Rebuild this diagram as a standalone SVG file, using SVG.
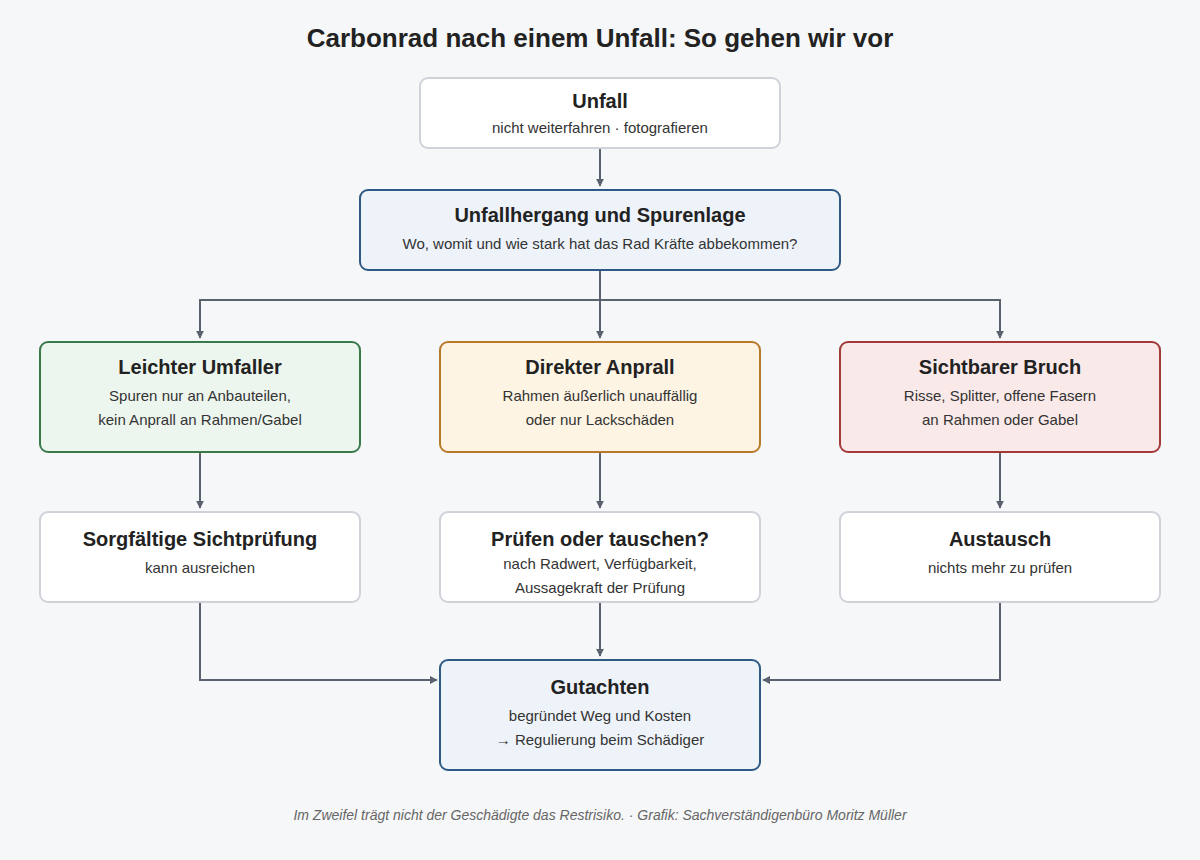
<svg xmlns="http://www.w3.org/2000/svg" width="1200" height="860" viewBox="0 0 1200 860">
<defs>
<marker id="ah" viewBox="0 0 10 10" refX="9" refY="5" markerWidth="8" markerHeight="8" markerUnits="userSpaceOnUse" orient="auto"><path d="M0,0 L10,5 L0,10 z" fill="#5a6270"/></marker>
<style>
text{font-family:"Liberation Sans",Arial,sans-serif;fill:#222;text-anchor:middle}
.t{font-size:20px;font-weight:bold}
.s{font-size:15px;fill:#333}
.c{fill:none;stroke:#5a6270;stroke-width:2;marker-end:url(#ah)}
.w{fill:#fff;stroke:#cfd3d9;stroke-width:2}
.b{fill:#eef3fa;stroke:#2f5a85;stroke-width:2}
</style>
</defs>
<rect width="1200" height="860" fill="#f6f7f9"/>
<text x="600" y="47" style="font-size:26px;font-weight:bold">Carbonrad nach einem Unfall: So gehen wir vor</text>
<g id="connectors">
<path class="c" d="M600,149 V186"/>
<path class="c" d="M600,271 V300 H200 V338"/>
<path class="c" d="M600,300 V338"/>
<path class="c" d="M600,300 H1000 V338"/>
<path class="c" d="M200,453 V508"/>
<path class="c" d="M600,453 V508"/>
<path class="c" d="M1000,453 V508"/>
<path class="c" d="M200,603 V680 H437"/>
<path class="c" d="M600,603 V656"/>
<path class="c" d="M1000,603 V680 H763"/>
</g>
<g id="n-unfall"><rect class="w" x="420" y="78" width="360" height="70" rx="8"/><text class="t" x="600" y="108">Unfall</text><text class="s" x="600" y="133">nicht weiterfahren · fotografieren</text></g>
<g id="n-hergang"><rect class="b" x="360" y="190" width="480" height="80" rx="8"/><text class="t" x="600" y="222">Unfallhergang und Spurenlage</text><text class="s" x="600" y="249">Wo, womit und wie stark hat das Rad Kräfte abbekommen?</text></g>
<g id="n-leicht"><rect x="40" y="342" width="320" height="110" rx="8" fill="#edf6ee" stroke="#3a7a4a" stroke-width="2"/><text class="t" x="200" y="374">Leichter Umfaller</text><text class="s" x="200" y="401">Spuren nur an Anbauteilen,</text><text class="s" x="200" y="425">kein Anprall an Rahmen/Gabel</text></g>
<g id="n-direkt"><rect x="440" y="342" width="320" height="110" rx="8" fill="#fef4e4" stroke="#b87a2a" stroke-width="2"/><text class="t" x="600" y="374">Direkter Anprall</text><text class="s" x="600" y="401">Rahmen äußerlich unauffällig</text><text class="s" x="600" y="425">oder nur Lackschäden</text></g>
<g id="n-bruch"><rect x="840" y="342" width="320" height="110" rx="8" fill="#fae9e9" stroke="#a33a3a" stroke-width="2"/><text class="t" x="1000" y="374">Sichtbarer Bruch</text><text class="s" x="1000" y="401">Risse, Splitter, offene Fasern</text><text class="s" x="1000" y="425">an Rahmen oder Gabel</text></g>
<g id="n-sicht"><rect class="w" x="40" y="512" width="320" height="90" rx="8"/><text class="t" x="200" y="546">Sorgfältige Sichtprüfung</text><text class="s" x="200" y="573">kann ausreichen</text></g>
<g id="n-pruefen"><rect class="w" x="440" y="512" width="320" height="90" rx="8"/><text class="t" x="600" y="546">Prüfen oder tauschen?</text><text class="s" x="600" y="569">nach Radwert, Verfügbarkeit,</text><text class="s" x="600" y="593">Aussagekraft der Prüfung</text></g>
<g id="n-austausch"><rect class="w" x="840" y="512" width="320" height="90" rx="8"/><text class="t" x="1000" y="546">Austausch</text><text class="s" x="1000" y="573">nichts mehr zu prüfen</text></g>
<g id="n-gutachten"><rect class="b" x="440" y="660" width="320" height="110" rx="8"/><text class="t" x="600" y="694">Gutachten</text><text class="s" x="600" y="721">begründet Weg und Kosten</text><text class="s" x="600" y="745">→ Regulierung beim Schädiger</text></g>
<text x="600" y="820" style="font-size:14px;font-style:italic;fill:#666">Im Zweifel trägt nicht der Geschädigte das Restrisiko. · Grafik: Sachverständigenbüro Moritz Müller</text>
</svg>
